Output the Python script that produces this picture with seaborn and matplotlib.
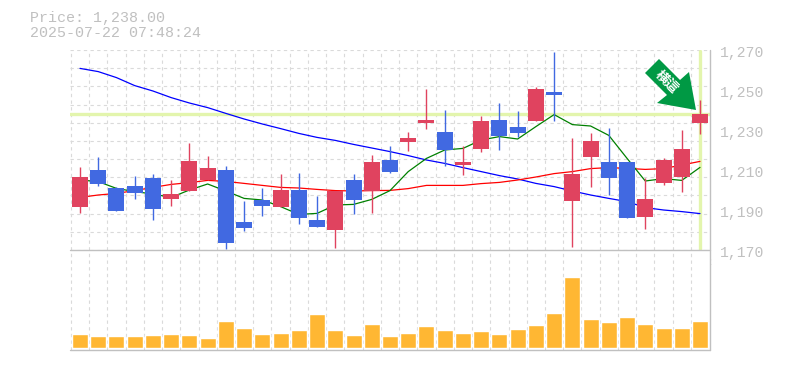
import numpy as np
import pandas as pd
import seaborn as sns
import matplotlib
matplotlib.use("Agg")
import matplotlib.pyplot as plt
from matplotlib.patches import Polygon

# ---- data ----
dates_labels = ["6/9", "6/16", "6/23", "6/30", "7/7", "7/14", "7/22"]
label_index = [4, 9, 14, 19, 24, 29, 34]
y_ticks = [1170, 1190, 1210, 1230, 1250, 1270]

body_top = [1206.5, 1210, 1201, 1202, 1206, 1198, 1214.5, 1211, 1210, 1184, 1195, 1200, 1200, 1185,
            1199.5, 1205, 1214, 1215, 1226, 1235, 1229, 1214, 1234.5, 1235, 1231.5, 1250.5, 1249,
            1208, 1224.5, 1214, 1214, 1195.5, 1215, 1220.5, 1238]
body_bot = [1191.5, 1203, 1189.5, 1198.5, 1190.5, 1195.5, 1199.5, 1205, 1173.5, 1181, 1192, 1191.5,
            1186, 1181.5, 1180, 1195, 1199.3, 1209, 1224, 1233.5, 1220, 1212.5, 1220.5, 1227, 1228.5,
            1234.5, 1247.5, 1194.5, 1216.5, 1206, 1186, 1186.5, 1203.5, 1206.5, 1233.5]
wick_top = [1211.5, 1216.5, 1201.5, 1207, 1208, 1205, 1223.5, 1217, 1212, 1194.5, 1201, 1208, 1208.5,
            1197, 1199.5, 1208, 1217.5, 1222, 1229, 1250.5, 1240, 1222, 1237, 1243.5, 1239.5, 1251.5,
            1269, 1226, 1228.5, 1231, 1214, 1206, 1216, 1230, 1245]
wick_bot = [1188.5, 1202, 1189.5, 1195.5, 1185, 1192, 1199.5, 1205, 1170.5, 1179.5, 1187, 1191.5,
            1183, 1181.5, 1171, 1188, 1188.5, 1208.5, 1219.5, 1230.5, 1212, 1207.5, 1219, 1220, 1226.5,
            1234.5, 1234.5, 1171.5, 1201.5, 1197.5, 1186, 1180.5, 1202.5, 1199, 1228]
is_red = [1, 0, 0, 0, 0, 1, 1, 1, 0, 0, 0, 1, 0, 0, 1, 0, 1, 0,
          1, 1, 0, 1, 1, 0, 0, 1, 0, 1, 1, 0, 0, 1, 1, 1, 1]

ma_short = [1205, 1204.2, 1200.8, 1199.2, 1198, 1196.3, 1200, 1203, 1199.5, 1195.8, 1195, 1191.7,
            1187.8, 1188.3, 1192.5, 1192.8, 1195.3, 1199.7, 1209.2, 1215.8, 1220, 1220.8, 1225,
            1226.7, 1225.5, 1231.7, 1237.7, 1232.7, 1232, 1227.3, 1215.8, 1204.5, 1205.7, 1204.8, 1211.3]
ma_mid = [1196.3, 1197.5, 1198.3, 1199.7, 1201.3, 1202.8, 1203.7, 1204.8, 1204.3, 1203.3, 1202.3,
          1201.3, 1201, 1200.3, 1199.7, 1199.5, 1199.7, 1199.8, 1200.7, 1202.3, 1202.3, 1202.3, 1203.2,
          1203.8, 1205, 1206.5, 1208.2, 1209.2, 1210.7, 1211.2, 1210.8, 1210.3, 1210.7, 1212.5, 1214.3]
ma_long = [1260.8, 1259.2, 1256.2, 1252.2, 1249.5, 1246.2, 1243.5, 1241.2, 1238.3, 1235.5, 1233,
           1230.7, 1228.3, 1226.3, 1224.8, 1222.8, 1221, 1219.2, 1217.2, 1215, 1213.3, 1211.2, 1209.2,
           1207.2, 1205.5, 1203.3, 1201.7, 1199.5, 1197.5, 1195.8, 1194.2, 1191.2, 1190, 1189.2, 1188.2]
volume = [14, 12, 12, 12, 13, 14, 13, 10, 27, 20, 14, 15, 18, 34, 18, 13, 24, 12,
          15, 22, 18, 15, 17, 14, 19, 23, 35, 71, 29, 26, 31, 24, 20, 20, 27]
last_price = 1238

# ---- style ----
GREY = "#c0c0c0"
GRID = "#dadada"
RED = "#e0435f"
BLUE = "#4169e1"
PALE = "#e3f5ad"
ARROW = "#009944"
MONO = "Liberation Mono"

sns.set_theme(style="white", rc={"font.family": MONO})
W, H = 785, 370
fig = plt.figure(figsize=(W / 100, H / 100), dpi=100, facecolor="white")
ax = fig.add_axes([70 / W, 1 - 250 / H, 640 / W, 200 / H])
axv = fig.add_axes([70 / W, 1 - 350 / H, 640 / W, 100 / H])

x = np.arange(len(volume))
xlim = (-0.548, 34.548)
df = pd.DataFrame({"i": x, "short": ma_short, "mid": ma_mid, "long": ma_long, "vol": volume})
colors = [RED if r else BLUE for r in is_red]

for a in (ax, axv):
    a.set_xlim(*xlim)
    a.set_facecolor("white")
    for s in a.spines.values():
        s.set_visible(False)
    a.set_xticks(np.arange(0, 35) - 0.5)
    a.grid(True, axis="x", color=GRID, lw=0.8, ls=(0, (3, 3)), zorder=0)
    a.tick_params(length=0, labelbottom=False, labelleft=False, right=False)
    a.set_axisbelow(True)

# price panel
ax.set_ylim(1170, 1270)
ax.set_yticks(1270 - np.arange(12) * 100 / 11)
ax.grid(True, axis="y", color=GRID, lw=0.8, ls=(0, (3, 3)), zorder=0)
ax.axhline(last_price, color=PALE, lw=2.4, zorder=1.5)
ax.axvline(34, color=PALE, ymin=0.005, ymax=0.995, lw=2.4, zorder=1.5)
sns.lineplot(data=df, x="i", y="long", color="#0000ff", lw=0.9, ax=ax, zorder=2)
sns.lineplot(data=df, x="i", y="mid", color="#ff0000", lw=0.9, ax=ax, zorder=2)
sns.lineplot(data=df, x="i", y="short", color="#008000", lw=0.9, ax=ax, zorder=2)
ax.vlines(x, wick_bot, wick_top, colors=colors, lw=1, zorder=3)
ax.bar(x, np.array(body_top) - np.array(body_bot), bottom=body_bot, width=0.875, color=colors, lw=0, zorder=4)
ax.set_xlim(*xlim)
ax.set_ylim(1170, 1270)
ax.set_xlabel("")
ax.set_ylabel("")

# volume panel
sns.barplot(data=df, x="i", y="vol", native_scale=True, color="#ffb733", saturation=1,
            width=0.875, ax=axv, zorder=3)
axv.set_xlim(*xlim)
axv.set_ylim(-2, 98)
axv.set_xlabel("")
axv.set_ylabel("")

# frame lines (pixel coordinates)
def fx(v): return v / W
def fy(v): return 1 - v / H
fig.add_artist(plt.Line2D([fx(70), fx(710)], [fy(250), fy(250)], color=GREY, lw=1))
fig.add_artist(plt.Line2D([fx(70), fx(710)], [fy(350), fy(350)], color=GREY, lw=1))
fig.add_artist(plt.Line2D([fx(710), fx(710)], [fy(50), fy(350)], color=GREY, lw=1))

# text
fig.text(fx(30), fy(18), "Price: 1,238.00", color=GREY, fontsize=10.8, family=MONO, va="center", ha="left")
fig.text(fx(30), fy(33), "2025-07-22 07:48:24", color=GREY, fontsize=10.8, family=MONO, va="center", ha="left")
for v in y_ticks:
    fig.text(fx(720), fy(50 + (1270 - v) * 2 + 3), f"{v:,}", color=GREY, fontsize=10.6, family=MONO,
             va="center", ha="left")
for i, lab in zip(label_index, dates_labels):
    ax.annotate(lab, (i, 1170), xytext=(0, -12), textcoords="offset pixels", color=GREY, fontsize=7.2,
                family=MONO, ha="center", va="center", annotation_clip=False, zorder=6)

# signal arrow
arrow_px = [(659, 59), (645, 73), (667, 95), (657, 103), (696, 110), (689, 72), (680, 80)]
fig.add_artist(Polygon([(fx(a), fy(b)) for a, b in arrow_px], closed=True, color=ARROW, lw=0,
                       transform=fig.transFigure, zorder=6))
fig.text(fx(667), fy(82), "横這", color="white", fontsize=9.5, rotation=-45, ha="center", va="center",
         family="Noto Sans CJK JP", fontweight="bold", zorder=7)

fig.savefig("out.png", dpi=100)
